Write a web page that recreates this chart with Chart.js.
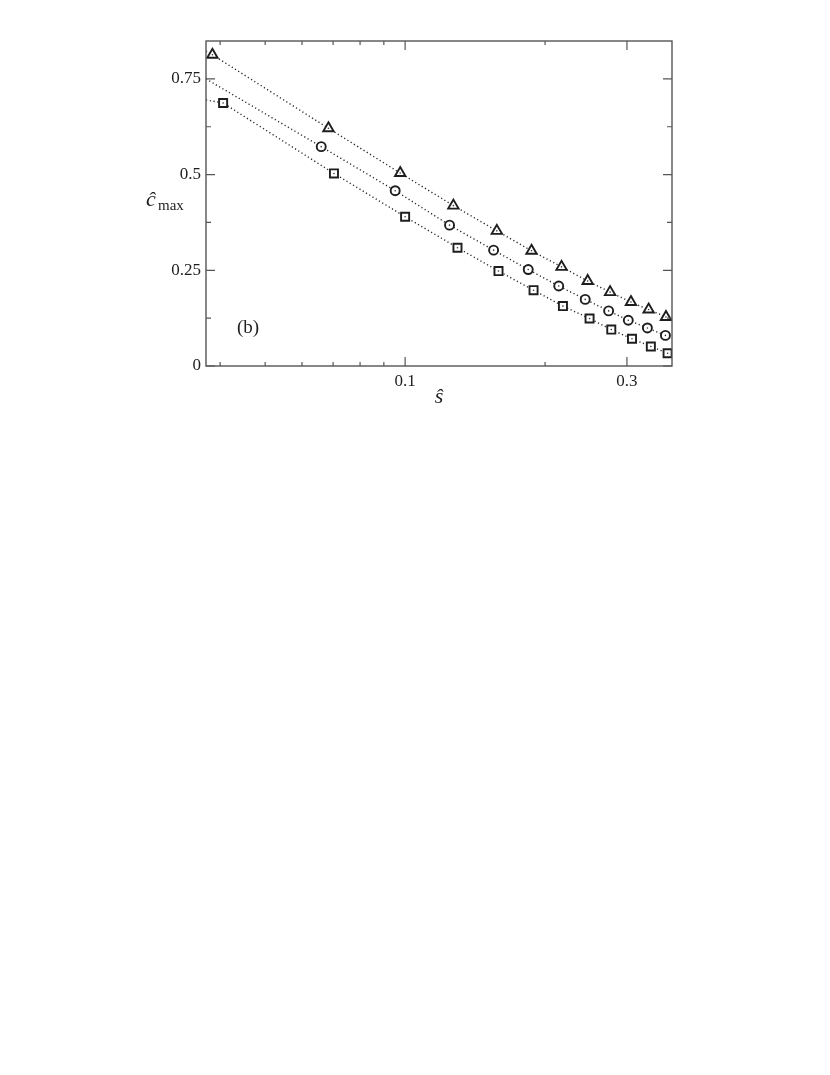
<!DOCTYPE html>
<html>
<head>
<meta charset="utf-8">
<script src="https://cdn.jsdelivr.net/npm/chart.js@4.4.1/dist/chart.umd.min.js"></script>
<style>
  html, body { margin: 0; padding: 0; background: #fff; }
  #wrap { position: relative; width: 830px; height: 1075px; }
</style>
</head>
<body>
<div id="wrap"><canvas id="chart"></canvas></div>
<script>
// values
const triX = [0.0385, 0.0684, 0.0976, 0.127, 0.1575, 0.187, 0.217, 0.247, 0.276, 0.306, 0.334, 0.364];
const triY = [0.813, 0.621, 0.504, 0.419, 0.353, 0.301, 0.259, 0.222, 0.193, 0.167, 0.1475, 0.128];
const circX = [0.066, 0.0952, 0.1246, 0.155, 0.184, 0.214, 0.244, 0.274, 0.302, 0.332, 0.363];
const circY = [0.573, 0.458, 0.368, 0.3026, 0.252, 0.209, 0.174, 0.144, 0.1195, 0.0994, 0.080];
const sqX = [0.0406, 0.0703, 0.1, 0.1296, 0.1588, 0.1889, 0.2185, 0.2493, 0.2776, 0.3076, 0.3377, 0.3669];
const sqY = [0.687, 0.503, 0.390, 0.309, 0.248, 0.198, 0.1565, 0.124, 0.0952, 0.0711, 0.051, 0.0332];

// dotted fit lines start at the left frame
const lineStartX = 0.0373;
const lineStartY = [0.823, 0.75, 0.695];

const xRange = [0.0373, 0.375];
const yRange = [0, 0.849];
const xLabelTicks = [0.1, 0.3];
const xMinorTicks = [0.04, 0.05, 0.06, 0.07, 0.08, 0.09, 0.2];
const yLabelTicks = [0, 0.25, 0.5, 0.75];
const yMinorTicks = [0.125, 0.375, 0.625];

const INK = '#1e1e1e';

Chart.defaults.font.family = "'Liberation Serif', 'DejaVu Serif', serif";
Chart.defaults.font.size = 17;
Chart.defaults.color = INK;

function pts(xs, ys) {
    return xs.map((x, i) => ({ x: x, y: ys[i] }));
}

function lineSet(xs, ys, startY) {
    return {
        data: [{ x: lineStartX, y: startY }].concat(pts(xs, ys)),
        showLine: true,
        borderColor: '#2a2a2a',
        borderWidth: 1.4,
        borderDash: [1.2, 2.6],
        pointRadius: 0,
        fill: false
    };
}

function markerSet(xs, ys, style, r) {
    return {
        data: pts(xs, ys),
        pointStyle: style,
        pointRadius: r,
        pointBorderWidth: 1.9,
        pointBorderColor: INK,
        pointBackgroundColor: '#fff',
        showLine: false
    };
}

function dotSet(xs, ys) {
    return {
        data: pts(xs, ys),
        pointStyle: 'circle',
        pointRadius: 0.8,
        pointBorderWidth: 0,
        pointBackgroundColor: '#333',
        showLine: false
    };
}

// frame, inward ticks and axis titles
const framePlugin = {
    id: 'frame',
    afterDraw(chart) {
        const ctx = chart.ctx;
        const a = chart.chartArea;
        const xs = chart.scales.x;
        const ys = chart.scales.y;
        ctx.save();
        ctx.strokeStyle = '#555';
        ctx.lineWidth = 1.4;
        ctx.strokeRect(a.left, a.top, a.right - a.left, a.bottom - a.top);

        ctx.lineWidth = 1.2;
        ctx.beginPath();
        const xt = (v, len) => {
            const p = xs.getPixelForValue(v);
            ctx.moveTo(p, a.bottom); ctx.lineTo(p, a.bottom - len);
            ctx.moveTo(p, a.top); ctx.lineTo(p, a.top + len);
        };
        const yt = (v, len) => {
            const p = ys.getPixelForValue(v);
            ctx.moveTo(a.left, p); ctx.lineTo(a.left + len, p);
            ctx.moveTo(a.right, p); ctx.lineTo(a.right - len, p);
        };
        xLabelTicks.forEach(v => xt(v, 9));
        xMinorTicks.forEach(v => xt(v, 4));
        yLabelTicks.forEach(v => yt(v, 9));
        yMinorTicks.forEach(v => yt(v, 5));
        ctx.stroke();

        ctx.fillStyle = INK;
        ctx.textBaseline = 'alphabetic';
        // y title: c-hat with "max" subscript
        const midY = (a.top + a.bottom) / 2;
        ctx.textAlign = 'left';
        ctx.font = "italic 22px 'Liberation Serif', serif";
        ctx.fillText('\u0109', a.left - 60, midY + 2);
        ctx.font = "15px 'Liberation Serif', serif";
        ctx.fillText('max', a.left - 48, midY + 6);

        // x title
        ctx.textAlign = 'center';
        ctx.font = "italic 22px 'Liberation Serif', serif";
        ctx.fillText('\u015D', (a.left + a.right) / 2, a.bottom + 37);

        // panel label
        ctx.font = "19px 'Liberation Serif', serif";
        ctx.fillText('(b)', a.left + 42, a.bottom - 33);
        ctx.restore();
    }
};

new Chart(document.getElementById('chart').getContext('2d'), {
    type: 'scatter',
    data: {
        datasets: [
            dotSet(triX, triY),
            dotSet(circX, circY),
            dotSet(sqX, sqY),
            markerSet(triX, triY, 'triangle', 6),
            markerSet(circX, circY, 'circle', 4.5),
            markerSet(sqX, sqY, 'rect', 5.7),
            lineSet(triX, triY, lineStartY[0]),
            lineSet(circX, circY, lineStartY[1]),
            lineSet(sqX, sqY, lineStartY[2])
        ]
    },
    options: {
        responsive: true,
        maintainAspectRatio: false,
        animation: false,
        layout: { padding: { left: 0, top: 41, right: 158, bottom: 669 } },
        plugins: {
            legend: { display: false },
            tooltip: { enabled: false }
        },
        scales: {
            x: {
                type: 'logarithmic',
                min: xRange[0],
                max: xRange[1],
                grid: { display: false, drawTicks: false },
                border: { display: false },
                afterBuildTicks: s => { s.ticks = xLabelTicks.map(v => ({ value: v })); },
                afterFit: s => { s.height = 40; },
                ticks: {
                    padding: 5,
                    maxRotation: 0,
                    autoSkip: false,
                    callback: v => String(v)
                }
            },
            y: {
                min: yRange[0],
                max: yRange[1],
                grid: { display: false, drawTicks: false },
                border: { display: false },
                afterBuildTicks: s => { s.ticks = yLabelTicks.map(v => ({ value: v })); },
                afterFit: s => { s.width = 206; },
                ticks: {
                    padding: 5,
                    callback: v => String(v)
                }
            }
        }
    },
    plugins: [framePlugin]
});
</script>
</body>
</html>
